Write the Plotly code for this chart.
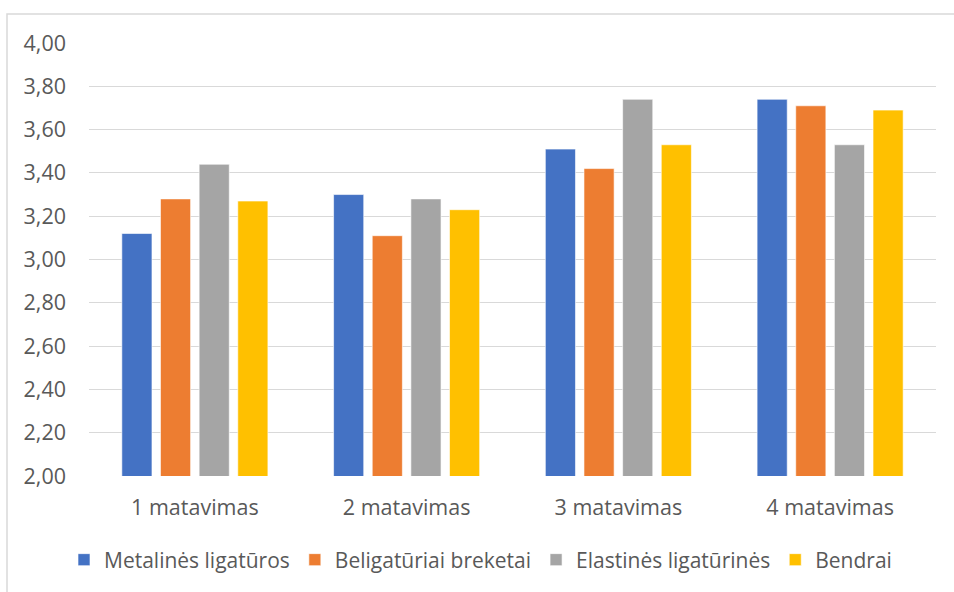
import plotly.graph_objects as go

categories = ["1 matavimas", "2 matavimas", "3 matavimas", "4 matavimas"]
series_names = ["Metalinės ligatūros", "Beligatūriai breketai", "Elastinės ligatūrinės", "Bendrai"]
metalines = [3.12, 3.30, 3.51, 3.74]
beligaturiai = [3.28, 3.11, 3.42, 3.71]
elastines = [3.44, 3.28, 3.74, 3.53]
bendrai = [3.27, 3.23, 3.53, 3.69]
colors = ["#4472C4", "#ED7D31", "#A5A5A5", "#FFC000"]
tick_vals = [2.0, 2.2, 2.4, 2.6, 2.8, 3.0, 3.2, 3.4, 3.6, 3.8, 4.0]
tick_text = ["2,00", "2,20", "2,40", "2,60", "2,80", "3,00", "3,20", "3,40", "3,60", "3,80", "4,00"]

W, H = 954, 592
L, R, T, B = 89, 18, 43, 116
pw, ph = W - L - R, H - T - B

def px_x(x):
    return (x - L) / pw

def px_y(y):
    return (H - B - y) / ph

fig = go.Figure()
for name, vals, col in zip(series_names, [metalines, beligaturiai, elastines, bendrai], colors):
    fig.add_trace(go.Bar(
        x=categories, y=vals, name=name,
        marker=dict(color=col, line=dict(color="rgba(255,255,255,0.6)", width=1)),
    ))

font_family = "'Open Sans', sans-serif"
fig.update_layout(
    width=W, height=H,
    margin=dict(l=L, r=R, t=T, b=B),
    paper_bgcolor="white", plot_bgcolor="white",
    barmode="group", bargap=0.27, bargroupgap=0.22,
    font=dict(family=font_family, color="#595959", size=21),
    showlegend=True,
    legend=dict(orientation="h", x=px_x(64), xanchor="left", y=px_y(560), yanchor="middle",
                font=dict(size=21, color="#595959"), traceorder="normal"),
    xaxis=dict(showgrid=False, showline=False, zeroline=False, ticks="",
               tickfont=dict(size=21.5, color="#595959"), ticklabelstandoff=16),
    yaxis=dict(range=[2.0, 4.0], tickvals=tick_vals, ticktext=tick_text,
               showgrid=True, gridcolor="#D9D9D9", gridwidth=1.3,
               zeroline=False, showline=False, ticks="",
               tickfont=dict(size=21.5, color="#595959"), ticklabelstandoff=22),
    shapes=[dict(type="rect", xref="paper", yref="paper",
                 x0=px_x(7), x1=px_x(1000), y0=px_y(650), y1=px_y(14),
                 line=dict(color="#D9D9D9", width=1.5), fillcolor="rgba(0,0,0,0)", layer="below")],
)

fig.write_html("out.html")
